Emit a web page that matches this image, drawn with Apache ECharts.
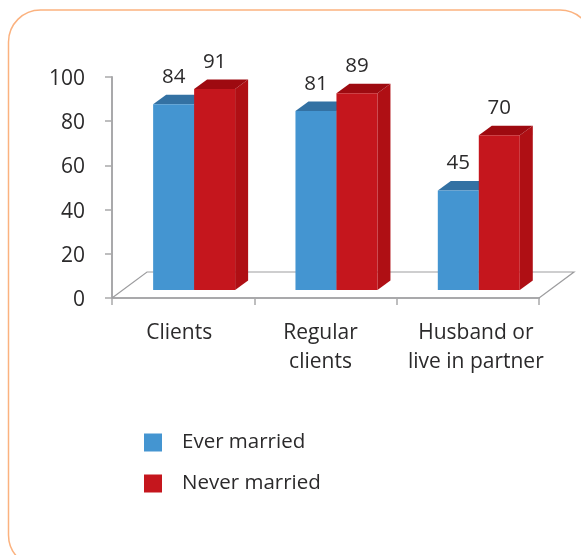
<!DOCTYPE html>
<html>
<head>
<meta charset="utf-8">
<style>
html, body { margin: 0; padding: 0; background: #fff; overflow: hidden; }
#main { width: 581px; height: 555px; }
</style>
<script src="https://cdn.jsdelivr.net/npm/echarts@6/dist/echarts.min.js"></script>
</head>
<body>
<div id="main"></div>
<script>
var categories = ['Clients', 'Regular\nclients', 'Husband or\nlive in partner'];
var everMarried = [84, 81, 45];
var neverMarried = [91, 89, 70];
var yTicks = [0, 20, 40, 60, 80, 100];

var FONT = '"Open Sans", sans-serif';
var TEXT = '#2b2a2b';
var AXIS = '#a9a9ab';

var myChart = echarts.init(document.getElementById('main'));

// pseudo 3d box: front face sits a bit up and to the right of the axis position
function boxSeries(name, values, slot, colors) {
    return {
        name: name,
        type: 'custom',
        coordinateSystem: 'cartesian2d',
        itemStyle: { color: colors.front },
        clip: false,
        z: 3 + slot,
        data: values.map(function (v, i) { return [i, v]; }),
        renderItem: function (params, api) {
            var top = api.coord([api.value(0), api.value(1)]);
            var base = api.coord([api.value(0), 0]);
            var band = api.size([1, 0])[0];
            var w = band * 0.288;
            var x0 = base[0] + band * 0.077 + (slot - 2) * w;
            var x1 = x0 + w;
            var y0 = top[1] - 8;
            var y1 = base[1] - 8;
            var dx = 13, dy = 9.5;
            return {
                type: 'group',
                children: [
                    { type: 'polygon', shape: { points: [[x1, y0], [x1 + dx, y0 - dy], [x1 + dx, y1 - dy], [x1, y1]] }, style: { fill: colors.side } },
                    { type: 'polygon', shape: { points: [[x0, y0], [x0 + dx, y0 - dy], [x1 + dx, y0 - dy], [x1, y0]] }, style: { fill: colors.top } },
                    { type: 'rect', shape: { x: x0, y: y0, width: w, height: y1 - y0 }, style: { fill: colors.front } },
                    { type: 'text', style: { text: String(api.value(1)), x: (x0 + x1) / 2, y: y0 - 27, align: 'center', verticalAlign: 'middle', font: '20.5px ' + FONT, fill: TEXT } }
                ]
            };
        }
    };
}

var labelStyle = { fontFamily: FONT, fontSize: 21, lineHeight: 29, color: TEXT };

var option = {
    animation: false,
    backgroundColor: '#fff',
    graphic: [{
        type: 'rect',
        silent: true,
        z: -1,
        shape: { x: 8.5, y: 10, width: 583.5, height: 557, r: 32 },
        style: { fill: 'none', stroke: '#fbb27f', lineWidth: 1.5 }
    }],
    grid: { left: 112, right: 42, top: 77, bottom: 257 },
    legend: {
        orient: 'vertical',
        left: 144,
        top: 432,
        padding: 0,
        itemWidth: 18,
        itemHeight: 18,
        itemGap: 20,
        icon: 'rect',
        data: ['Ever married', 'Never married'],
        textStyle: { fontFamily: FONT, fontSize: 20.5, color: TEXT, padding: [0, 0, 0, 15] }
    },
    xAxis: {
        type: 'category',
        data: categories,
        axisLine: { lineStyle: { color: AXIS, width: 2 } },
        axisTick: { show: true, length: 7, lineStyle: { color: AXIS, width: 1.5 } },
        axisLabel: {
            interval: 0,
            margin: 21,
            // labels are not quite centred on their bands in the original
            formatter: function (value, i) {
                return value.split('\n').map(function (line) { return '{s' + i + '|' + line + '}'; }).join('\n');
            },
            rich: {
                s0: Object.assign({ padding: [0, 8, 0, 0] }, labelStyle),
                s1: Object.assign({ padding: [0, 10, 0, 0] }, labelStyle),
                s2: Object.assign({ padding: [0, 0, 0, 16] }, labelStyle)
            }
        }
    },
    yAxis: {
        type: 'value',
        min: yTicks[0],
        max: yTicks[yTicks.length - 1],
        interval: yTicks[1] - yTicks[0],
        splitLine: { show: false },
        axisLine: { show: true, lineStyle: { color: AXIS, width: 2 } },
        axisTick: { show: true, length: 7, lineStyle: { color: AXIS, width: 1.5 } },
        axisLabel: {
            margin: 27,
            formatter: '{v|{value}}',
            rich: { v: { fontFamily: FONT, fontSize: 21, color: TEXT, padding: [4, 0, 0, 0] } }
        }
    },
    series: [
        // back wall / floor outline
        {
            type: 'custom',
            silent: true,
            clip: false,
            z: 1,
            data: [[0, 0]],
            renderItem: function (params, api) {
                var g = params.coordSys;
                var bottom = g.y + g.height, right = g.x + g.width;
                var dx = 35, dy = 26;
                return {
                    type: 'polyline',
                    shape: { points: [[g.x, bottom], [g.x + dx, bottom - dy], [right + dx, bottom - dy], [right, bottom]] },
                    style: { fill: 'none', stroke: '#9d9d9f', lineWidth: 1.2 }
                };
            }
        },
        boxSeries('Ever married', everMarried, 1, { front: '#4495d1', top: '#3371a3', side: '#33719f' }),
        boxSeries('Never married', neverMarried, 2, { front: '#c5161d', top: '#9e0a10', side: '#af0f14' })
    ]
};

myChart.setOption(option);
</script>
</body>
</html>
